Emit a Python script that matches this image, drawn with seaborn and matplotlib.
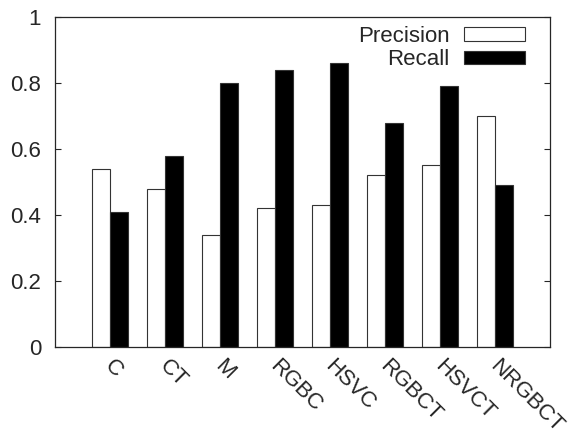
import numpy as np
import pandas as pd
import matplotlib
matplotlib.use("Agg")
import matplotlib.pyplot as plt
import matplotlib.transforms as mtransforms
import seaborn as sns

# data
methods = ["C", "CT", "M", "RGBC", "HSVC", "RGBCT", "HSVCT", "NRGBCT"]
precision = [0.54, 0.48, 0.34, 0.42, 0.43, 0.52, 0.55, 0.70]
recall = [0.41, 0.58, 0.80, 0.84, 0.86, 0.68, 0.79, 0.49]
y_ticks = [0, 0.2, 0.4, 0.6, 0.8, 1]
y_labels = ["0", "0.2", "0.4", "0.6", "0.8", "1"]

df = pd.DataFrame({
    "method": methods * 2,
    "value": precision + recall,
    "metric": ["Precision"] * len(methods) + ["Recall"] * len(methods),
})

sns.set_style("ticks")
plt.rcParams["font.family"] = ["Liberation Sans", "DejaVu Sans"]

fig = plt.figure(figsize=(5.69, 4.32), dpi=100)
ax = fig.add_axes([55 / 569, 1 - 347 / 432, 495 / 569, 330 / 432])

sns.barplot(data=df, x="method", y="value", hue="metric",
            palette={"Precision": "white", "Recall": "black"},
            width=0.64, edgecolor="#333333", linewidth=0.8,
            saturation=1, ax=ax)

ax.set_xlim(-1, 8)
ax.set_ylim(0, 1)
ax.set_yticks(y_ticks)
ax.set_yticklabels(y_labels, fontsize=16)
ax.set_xlabel("")
ax.set_ylabel("")
ax.tick_params(axis="y", direction="in", length=4, right=True, pad=10, width=0.8)
ax.tick_params(axis="x", length=0, pad=6)
plt.setp(ax.get_xticklabels(), rotation=-45, ha="left", va="top",
         rotation_mode="anchor", fontsize=16)
# nudge the rotated labels a little to the right, like gnuplot does
shift = mtransforms.ScaledTranslation(0.05, 0, fig.dpi_scale_trans)
for lbl in ax.get_xticklabels():
    lbl.set_transform(lbl.get_transform() + shift)
for s in ax.spines.values():
    s.set_visible(True)
    s.set_linewidth(0.9)

leg = ax.legend(loc="upper right", bbox_to_anchor=(0.977, 1.014), frameon=False,
                markerfirst=False, fontsize=16, handlelength=2.75,
                handleheight=0.55, handletextpad=0.65, labelspacing=0.12,
                borderaxespad=0.2)
for t in leg.get_texts():
    t.set_ha("right")

fig.savefig("out.png", dpi=100)
